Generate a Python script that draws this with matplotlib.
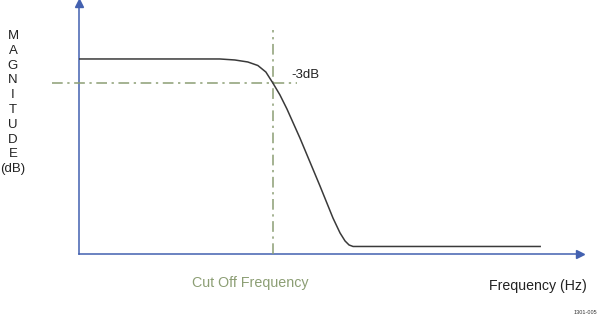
import matplotlib
matplotlib.use("Agg")
import matplotlib.pyplot as plt

plt.rcParams['font.family'] = ['Liberation Sans', 'DejaVu Sans']

# low-pass response (axis units 0..100)
freq = [0, 28.1, 31.1, 33.7, 35.7, 37.3, 38.7, 40.1, 41.5, 44.1, 48.1, 50.7,
        52.1, 53.1, 53.9, 54.7, 92.2]
mag = [77.7, 77.7, 77.3, 76.5, 75.1, 72.5, 68.1, 63.4, 57.8, 46.2, 27.1, 14.3,
       8.4, 5.2, 3.6, 3.0, 3.0]
cutoff_freq = 38.7
level_3db = 68.1

axis_blue = "#4361b0"
guide_green = "#8c9e74"

fig = plt.figure(figsize=(6, 3.2), dpi=100)
W, H = 600, 320


def fx(px):
    return px / W


def fy(py):
    return 1 - py / H


ax = fig.add_axes([fx(79), fy(254), fx(580) - fx(79), fy(3) - fy(254)])
ax.set_xlim(0, 100)
ax.set_ylim(0, 100)
ax.axis("off")

# axes with arrowheads
ax.plot([0, 100], [0, 0], color=axis_blue, lw=1.1, clip_on=False)
ax.plot([0, 0], [0, 100], color=axis_blue, lw=1.1, clip_on=False)
ax.plot([100], [0], marker=">", color=axis_blue, ms=6, clip_on=False)
ax.plot([0], [100], marker="^", color=axis_blue, ms=6, clip_on=False)

# guide lines at cutoff and -3dB
dashdot = (0, (7, 3, 1.5, 3))
ax.plot([-5.4, 43.5], [level_3db, level_3db], color=guide_green, lw=1.1,
        ls=dashdot, clip_on=False)
ax.plot([cutoff_freq, cutoff_freq], [0, 89.2], color=guide_green, lw=1.1,
        ls=dashdot, clip_on=False)

# response curve
ax.plot(freq, mag, color="#3a3a3a", lw=1.1, solid_capstyle="butt")

ax.text(42.4, 71.2, "-3dB", fontsize=9.5, color="#222222", va="center")

# stacked y label
letters = list("MAGNITUDE") + ["(dB)"]
for i, s in enumerate(letters):
    fig.text(fx(13), fy(36 + i * 14.8), s, fontsize=9.5, color="#222222",
             ha="center", va="center")

fig.text(fx(250), fy(283), "Cut Off Frequency", fontsize=10.3,
         color=guide_green, ha="center", va="center")
fig.text(fx(538), fy(286), "Frequency (Hz)", fontsize=10.2,
         color="#222222", ha="center", va="center")
fig.text(fx(597), fy(313), "1301-005", fontsize=4, color="#333333",
         ha="right", va="center")

fig.savefig("out.png", dpi=100)
